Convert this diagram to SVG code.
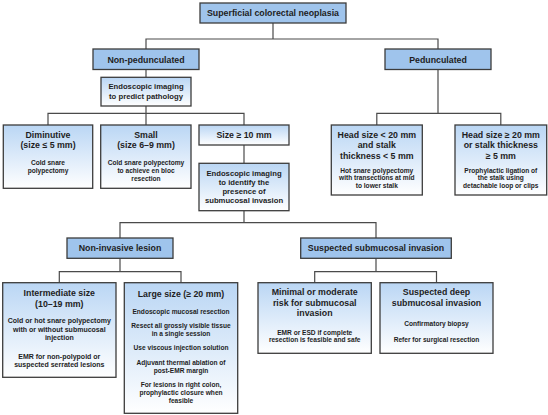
<svg xmlns="http://www.w3.org/2000/svg" width="548" height="415" viewBox="0 0 548 415">
<defs>
<linearGradient id="g" x1="0" y1="0" x2="0" y2="1">
<stop offset="0" stop-color="#bad6f4"/>
<stop offset="1" stop-color="#ffffff"/>
</linearGradient>
<style>
.dk{fill:#9fc4ec;stroke:#3c3c3c;stroke-width:1.3}
.lt{fill:url(#g);stroke:#3c3c3c;stroke-width:1.3}
.c{fill:none;stroke:#4a4a4a;stroke-width:1.2}
text{font-family:"Liberation Sans",Arial,Helvetica,sans-serif;font-weight:bold;fill:#1e1e1e;text-anchor:middle}
.t{font-size:8.8px}
.m{font-size:7.7px}
.s{font-size:6.6px}
.s7{font-size:7px}
</style>
</defs>
<rect width="548" height="415" fill="#ffffff"/>
<g id="connectors">
<path class="c" d="M273,23V39M146,49V39H438V49"/>
<path class="c" d="M146,69.5V77.3"/>
<path class="c" d="M146,106V113.3M48,125V113.3H244V125M146,113.3V125"/>
<path class="c" d="M244,145V163.3"/>
<path class="c" d="M244,210.7V222.7M120,238V222.7H376V238"/>
<path class="c" d="M120,258.3V271.7M59.3,282.7V271.7H181V282.7"/>
<path class="c" d="M376,258.3V271.7M314.7,282.7V271.7H436.5V282.7"/>
<path class="c" d="M438,69.5V113.3M376.8,125V113.3H500.8V125"/>
</g>
<g id="n-root">
<rect class="dk" x="200" y="3" width="146" height="20"/>
<text class="t" x="273" y="16">Superficial colorectal neoplasia</text>
</g>
<g id="n-nonped">
<rect class="dk" x="93" y="49" width="106" height="20.5"/>
<text class="t" x="146" y="62.6">Non-pedunculated</text>
</g>
<g id="n-ped">
<rect class="dk" x="385" y="49" width="106" height="20.5"/>
<text class="t" x="438" y="62.6">Pedunculated</text>
</g>
<g id="n-imaging1">
<rect class="lt" x="101" y="77.3" width="90" height="28.7"/>
<text class="m" x="146" y="89.4">Endoscopic imaging</text>
<text class="m" x="146" y="99.2">to predict pathology</text>
</g>
<g id="n-diminutive">
<rect class="lt" x="3.3" y="125" width="89.4" height="63.3"/>
<text class="t" x="48" y="138.2">Diminutive</text>
<text class="t" x="48" y="148.3">(size ≤ 5 mm)</text>
<text class="s" x="48" y="164.8">Cold snare</text>
<text class="s" x="48" y="173">polypectomy</text>
</g>
<g id="n-small">
<rect class="lt" x="100.7" y="125" width="90.3" height="63.3"/>
<text class="t" x="146" y="138.2">Small</text>
<text class="t" x="146" y="148.3">(size 6–9 mm)</text>
<text class="s" x="146" y="164.8">Cold snare polypectomy</text>
<text class="s" x="146" y="173.1">to achieve en bloc</text>
<text class="s" x="146" y="181.4">resection</text>
</g>
<g id="n-size10">
<rect class="lt" x="199" y="125" width="90" height="20"/>
<text class="t" x="244" y="138.2">Size ≥ 10 mm</text>
</g>
<g id="n-imaging2">
<rect class="lt" x="199" y="163.3" width="90" height="47.4"/>
<text class="m" x="244" y="176">Endoscopic imaging</text>
<text class="m" x="244" y="184.9">to identify the</text>
<text class="m" x="244" y="193.8">presence of</text>
<text class="m" x="244" y="202.7">submucosal invasion</text>
</g>
<g id="n-head-small">
<rect class="lt" x="331.3" y="125" width="91" height="70"/>
<text class="t" x="376.8" y="138.2">Head size &lt; 20 mm</text>
<text class="t" x="376.8" y="148.4">and stalk</text>
<text class="t" x="376.8" y="158.6">thickness &lt; 5 mm</text>
<text class="s" x="376.8" y="172.6">Hot snare polypectomy</text>
<text class="s" x="376.8" y="180.2">with transections at mid</text>
<text class="s" x="376.8" y="187.8">to lower stalk</text>
</g>
<g id="n-head-large">
<rect class="lt" x="455" y="125" width="91.7" height="70"/>
<text class="t" x="500.8" y="138.2">Head size ≥ 20 mm</text>
<text class="t" x="500.8" y="148.4">or stalk thickness</text>
<text class="t" x="500.8" y="158.6">≥ 5 mm</text>
<text class="s" x="500.8" y="172.6">Prophylactic ligation of</text>
<text class="s" x="500.8" y="180.2">the stalk using</text>
<text class="s" x="500.8" y="187.8">detachable loop or clips</text>
</g>
<g id="n-noninvasive">
<rect class="dk" x="67" y="238" width="106" height="20.3"/>
<text class="t" x="120" y="251.2">Non-invasive lesion</text>
</g>
<g id="n-suspected">
<rect class="dk" x="300.7" y="238" width="150.6" height="20.3"/>
<text class="t" x="376" y="251.2">Suspected submucosal invasion</text>
</g>
<g id="n-intermediate">
<rect class="lt" x="2.7" y="282.7" width="113.3" height="94.6"/>
<text class="t" x="59.3" y="296.4">Intermediate size</text>
<text class="t" x="59.3" y="306.5">(10–19 mm)</text>
<text class="s7" x="59.3" y="323.4">Cold or hot snare polypectomy</text>
<text class="s7" x="59.3" y="331.6">with or without submucosal</text>
<text class="s7" x="59.3" y="339.8">injection</text>
<text class="s7" x="59.3" y="359">EMR for non-polypoid or</text>
<text class="s7" x="59.3" y="367.3">suspected serrated lesions</text>
</g>
<g id="n-large">
<rect class="lt" x="124.3" y="282.7" width="113.4" height="130.6"/>
<text class="t" x="181" y="297">Large size (≥ 20 mm)</text>
<text class="s" x="181" y="314">Endoscopic mucosal resection</text>
<text class="s" x="181" y="328">Resect all grossly visible tissue</text>
<text class="s" x="181" y="336.2">in a single session</text>
<text class="s" x="181" y="350.4">Use viscous injection solution</text>
<text class="s" x="181" y="364.5">Adjuvant thermal ablation of</text>
<text class="s" x="181" y="372.7">post-EMR margin</text>
<text class="s" x="181" y="386.8">For lesions in right colon,</text>
<text class="s" x="181" y="395.1">prophylactic closure when</text>
<text class="s" x="181" y="403.4">feasible</text>
</g>
<g id="n-minimal">
<rect class="lt" x="258" y="282.7" width="113.3" height="70.6"/>
<text class="t" x="314.7" y="295.3">Minimal or moderate</text>
<text class="t" x="314.7" y="305.5">risk for submucosal</text>
<text class="t" x="314.7" y="315.7">invasion</text>
<text class="s" x="314.7" y="334.8">EMR or ESD if complete</text>
<text class="s" x="314.7" y="342.2">resection is feasible and safe</text>
</g>
<g id="n-deep">
<rect class="lt" x="380" y="282.7" width="113" height="70.6"/>
<text class="t" x="436.5" y="295.3">Suspected deep</text>
<text class="t" x="436.5" y="305.5">submucosal invasion</text>
<text class="s" x="436.5" y="325.6">Confirmatory biopsy</text>
<text class="s" x="436.5" y="341.6">Refer for surgical resection</text>
</g>
</svg>
